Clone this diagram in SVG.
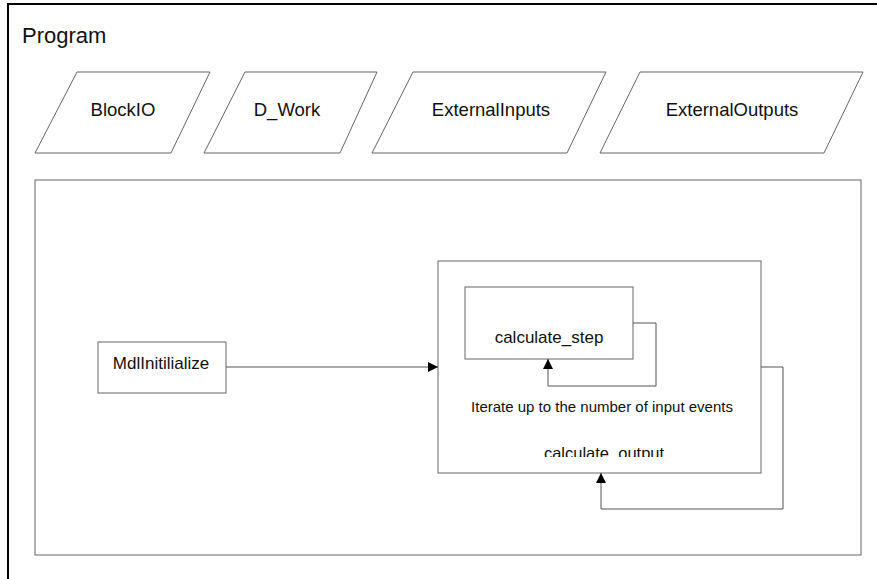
<svg xmlns="http://www.w3.org/2000/svg" width="877" height="579" viewBox="0 0 877 579">
  <style>
    .frame { fill: none; stroke: #000; stroke-width: 2; }
    .shape { fill: #fff; stroke: #666; stroke-width: 1; }
    .label { font-family: "Liberation Sans", Arial, sans-serif; fill: #111; text-anchor: middle; }
    .wire { fill: none; stroke: #555; stroke-width: 1; }
  </style>
  <defs>
    <marker id="arrow" viewBox="0 0 10 10" refX="10" refY="5" markerWidth="10" markerHeight="10" markerUnits="userSpaceOnUse" orient="auto">
      <path d="M0,0 L10,5 L0,10 z" fill="#000"/>
    </marker>
    <clipPath id="clipOutput">
      <rect x="438" y="261" width="323" height="196"/>
    </clipPath>
  </defs>
  <rect width="877" height="579" fill="#fff"/>

  <!-- program frame -->
  <g id="program">
    <path class="frame" d="M8,579 V4 H877"/>
    <text x="22" y="43" font-family="Liberation Sans, Arial, sans-serif" font-size="22" fill="#111">Program</text>
  </g>

  <!-- data stores -->
  <g id="blockio">
    <polygon class="shape" points="77,72 210,72 171,153 35,153"/>
    <text class="label" x="123" y="116" font-size="18.5">BlockIO</text>
  </g>
  <g id="dwork">
    <polygon class="shape" points="245,72 377,72 340,153 204,153"/>
    <text class="label" x="287" y="116" font-size="18.5">D_Work</text>
  </g>
  <g id="externalinputs">
    <polygon class="shape" points="413,72 606,72 567,153 372,153"/>
    <text class="label" x="491" y="116" font-size="18.5">ExternalInputs</text>
  </g>
  <g id="externaloutputs">
    <polygon class="shape" points="640,72 863,72 824,153 600,153"/>
    <text class="label" x="732" y="116" font-size="18.5">ExternalOutputs</text>
  </g>

  <!-- model container -->
  <g id="model">
    <rect class="shape" x="35" y="180" width="826" height="375"/>
  </g>

  <g id="mdlinitialize">
    <rect class="shape" x="98" y="342" width="128" height="51"/>
    <text class="label" x="161" y="369" font-size="17">MdlInitilialize</text>
  </g>

  <g id="calculate_output">
    <rect class="shape" x="438" y="261" width="323" height="212"/>
    <text class="label" x="602" y="412" font-size="15">Iterate up to the number of input events</text>
    <text class="label" x="604" y="459" font-size="16.5" clip-path="url(#clipOutput)">calculate_output</text>
  </g>

  <g id="calculate_step">
    <rect class="shape" x="465" y="287" width="168" height="72"/>
    <text class="label" x="549" y="343" font-size="17">calculate_step</text>
  </g>

  <!-- connectors -->
  <g id="connectors">
    <path class="wire" d="M226,367 H438" marker-end="url(#arrow)"/>
    <path class="wire" d="M633,323 H656 V386 H548 V359" marker-end="url(#arrow)"/>
    <path class="wire" d="M761,367 H783 V509 H601 V473" marker-end="url(#arrow)"/>
  </g>
</svg>
